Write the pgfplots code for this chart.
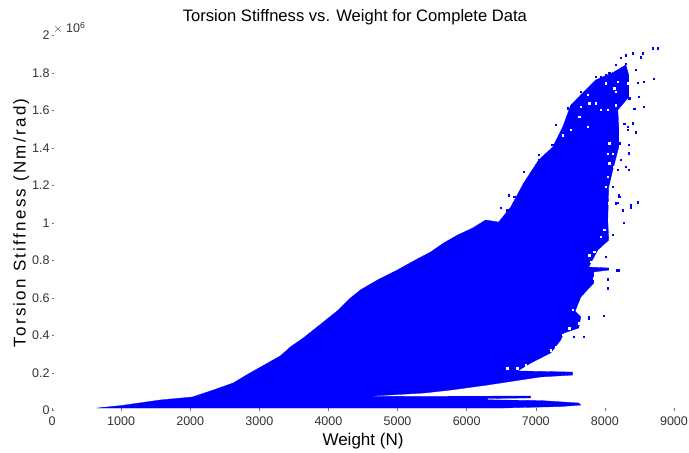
\documentclass[border=0pt]{standalone}
\usepackage{fontspec}
\setmainfont{Liberation Sans}
\usepackage{pgfplots}
\pgfplotsset{compat=1.18}
\begin{document}
\begin{tikzpicture}[x=1pt,y=1pt]
\path[use as bounding box] (-52,-42.5) rectangle (637,410.5);
\begin{axis}[
  at={(0,0)},anchor=south west,
  scale only axis,width=622pt,height=375pt,
  xmin=0,xmax=9000,ymin=0,ymax=2,
  axis line style={draw=none},
  tick style={black!55,line width=0.5pt},
  major tick length=2.5pt,
  tick align=inside,
  xtick pos=bottom,ytick pos=left,
  xtick={0,1000,...,9000},
  xticklabels={0,1000,2000,3000,4000,5000,6000,7000,8000,9000},
  ytick={0,0.2,...,2.01},
  yticklabels={0,0.2,0.4,0.6,0.8,1,1.2,1.4,1.6,1.8,2},
  ticklabel style={font=\fontsize{12.5}{14}\selectfont,black!80},
  xticklabel style={yshift=-3pt},
  yticklabel style={xshift=1pt},
  xlabel={Weight (N)},
  ylabel={\addfontfeature{LetterSpace=13.5}Torsion Stiffness (Nm/rad)},
  title={Torsion Stiffness vs. Weight for Complete Data},
  label style={font=\fontsize{17}{19}\selectfont},
  title style={font=\fontsize{16.6}{18}\selectfont,at={(0.487,1)},anchor=south,yshift=1pt},
  xlabel style={yshift=0pt},
  ylabel style={yshift=-4pt},
  clip=false,
]
\addplot[fill=blue,draw=blue,line width=0.3pt] coordinates {
(652,0.013)(1014,0.027)(1565,0.056)(2029,0.072)(2333,0.109)(2623,0.147)(2840,0.195)(3043,0.237)(3304,0.291)(3449,0.339)(3637,0.387)(3927,0.472)(4144,0.536)(4318,0.600)(4463,0.643)(4709,0.696)(4970,0.744)(5260,0.803)(5477,0.845)(5666,0.893)(5869,0.936)(6086,0.973)(6274,1.016)(6463,1.005)(6637,1.085)(6825,1.213)(7042,1.336)(7245,1.405)(7390,1.512)(7506,1.629)(7651,1.683)(7868,1.763)(8129,1.805)(8303,1.843)(8346,1.789)(8346,1.672)(8187,1.603)(8201,1.512)(8201,1.405)(8114,1.283)(8056,1.192)(8042,1.016)(8056,0.909)(7897,0.856)(7766,0.765)(8056,0.760)(8056,0.749)(7839,0.739)(7839,0.680)(7651,0.605)(7570,0.530)(7651,0.499)(7622,0.440)(7404,0.413)(7361,0.376)(7216,0.307)(6926,0.253)(6738,0.211)(7535,0.205)(7535,0.189)(7071,0.179)(6781,0.163)(6303,0.136)(5767,0.109)(5376,0.093)(4898,0.083)(4535,0.075)(6926,0.077)(6926,0.067)(6303,0.064)(6303,0.057)(7071,0.053)(7622,0.040)(7651,0.029)(7361,0.021)(6492,0.013)
} -- cycle;
\addplot[only marks,mark=square*,mark size=0.7pt,color=white] coordinates {
(8013,1.745)(8134,1.718)(8158,1.700)(8182,1.754)(8327,1.745)(7748,1.683)(7772,1.638)(7651,1.620)(7868,1.638)(7941,1.603)(8158,1.629)(8279,1.611)(8037,1.603)(7627,1.567)(7748,1.514)(7506,1.496)(7385,1.469)(8062,1.425)(8110,1.371)(8037,1.371)(8062,1.318)(8134,1.300)(8037,1.247)(8013,1.194)(8062,1.105)(8110,1.069)(7989,0.963)(7941,0.927)(7844,0.847)(7796,0.794)(7772,0.829)(7844,0.705)(7820,0.651)(7651,0.589)(7530,0.536)(7627,0.465)(7482,0.438)(7386,0.403)(7289,0.340)(7216,0.322)(6854,0.242)(6733,0.225)(6589,0.225)
};
\addplot[only marks,mark=square*,mark size=0.7pt,color=blue] coordinates {
(8694,1.933)(8767,1.933)(8549,1.906)(8520,1.885)(8404,1.906)(8303,1.895)(8230,1.880)(8158,1.843)(8708,1.768)(8564,1.752)(8477,1.747)(8491,1.672)(8564,1.619)(8419,1.608)(8404,1.533)(8448,1.485)(8332,1.512)(8346,1.416)(8346,1.373)(8303,1.299)(8346,1.283)(8477,1.112)(8375,1.085)(8201,1.149)(8187,1.107)(7868,1.779)(8013,1.789)(7462,1.613)(7288,1.523)(7042,1.363)(6825,1.272)(6607,1.149)(6492,1.080)(8375,1.096)(8477,1.107)(8274,1.0)(8114,0.936)(8013,0.819)(8172,0.749)(8201,0.749)(8042,0.701)(8042,0.653)(7651,0.760)(7766,0.499)(7766,0.488)(7984,0.504)(7694,0.392)(7549,0.392)(7477,0.2)
(7651,1.70)(7748,1.70)(7844,1.736)(7941,1.78)(8062,1.80)(8182,1.807)(8303,1.85)(8448,1.816)(8351,1.665)(8424,1.61)(8279,1.53)(8327,1.496)(8207,1.425)(8231,1.336)(8182,1.283)(8110,1.194)(8207,1.14)(8255,1.069)(8158,1.105)(7361,1.469)(7240,1.416)(7047,1.336)(6926,1.265)(6830,1.211)(6685,1.14)(6588,1.069)
};
\node[anchor=south west,inner sep=0pt,font=\fontsize{12.5}{14}\selectfont,text=black!80] at (rel axis cs:0.002,1.005) {$\times$ 10\textsuperscript{6}};
\end{axis}
\end{tikzpicture}
\end{document}
